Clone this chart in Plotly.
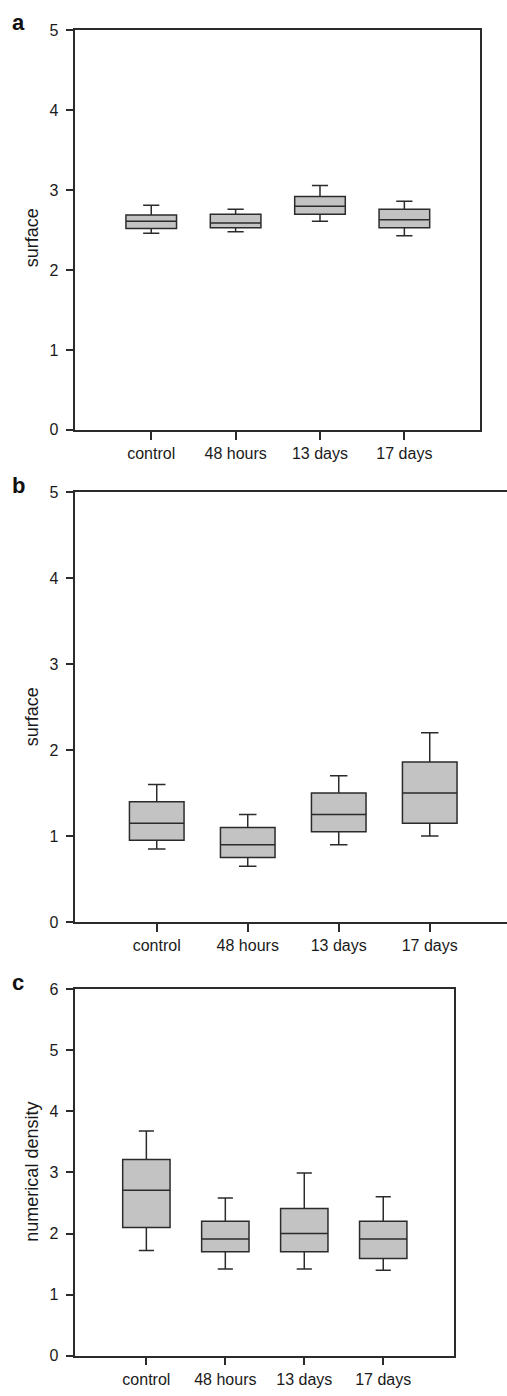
import plotly.graph_objects as go

categories = ["control", "48 hours", "13 days", "17 days"]

# panel a: surface
a_lower = [2.46, 2.48, 2.61, 2.43]
a_q1 = [2.52, 2.53, 2.70, 2.53]
a_median = [2.61, 2.59, 2.80, 2.63]
a_q3 = [2.69, 2.70, 2.92, 2.76]
a_upper = [2.81, 2.76, 3.06, 2.86]

# panel b: surface
b_lower = [0.85, 0.65, 0.90, 1.00]
b_q1 = [0.95, 0.75, 1.05, 1.15]
b_median = [1.15, 0.90, 1.25, 1.50]
b_q3 = [1.40, 1.10, 1.50, 1.86]
b_upper = [1.60, 1.25, 1.70, 2.20]

# panel c: numerical density
c_lower = [1.72, 1.42, 1.42, 1.40]
c_q1 = [2.10, 1.70, 1.70, 1.59]
c_median = [2.71, 1.91, 2.00, 1.91]
c_q3 = [3.21, 2.20, 2.41, 2.20]
c_upper = [3.68, 2.58, 2.99, 2.60]

a_ticks = [0, 1, 2, 3, 4, 5]
b_ticks = [0, 1, 2, 3, 4, 5]
c_ticks = [0, 1, 2, 3, 4, 5, 6]

W, H = 507, 1396
FONT = "Liberation Sans, Arial, sans-serif"
LINE = "#2b2b2b"
FILL = "#c3c3c3"


def px_x(p):
    return p / W


def px_y(p):
    return 1 - p / H


fig = go.Figure()

panels = [
    ("", a_lower, a_q1, a_median, a_q3, a_upper),
    ("2", b_lower, b_q1, b_median, b_q3, b_upper),
    ("3", c_lower, c_q1, c_median, c_q3, c_upper),
]
for suf, lo, q1, med, q3, up in panels:
    fig.add_trace(go.Box(
        x=categories, q1=q1, median=med, q3=q3,
        lowerfence=lo, upperfence=up,
        xaxis="x" + suf, yaxis="y" + suf,
        width=0.6, whiskerwidth=0.32,
        fillcolor=FILL, line=dict(color=LINE, width=1.5),
        boxpoints=False, showlegend=False, hoverinfo="skip",
    ))

common_x = dict(
    type="category", categoryorder="array", categoryarray=categories,
    showline=True, linecolor=LINE, linewidth=1.5,
    ticks="outside", ticklen=8, tickwidth=1.5, tickcolor=LINE,
    showgrid=False, zeroline=False,
    tickfont=dict(family=FONT, size=16, color="#1a1a1a"),
    range=[-0.9, 3.9], fixedrange=True,
)
common_y = dict(
    showline=True, linecolor=LINE, linewidth=1.5,
    ticks="outside", ticklen=8, tickwidth=1.5, tickcolor=LINE,
    showgrid=False, zeroline=False, ticklabelstandoff=4,
    tickfont=dict(family=FONT, size=16, color="#1a1a1a"),
    fixedrange=True,
)

layout = dict(
    width=W, height=H,
    margin=dict(l=0, r=0, t=0, b=0),
    paper_bgcolor="white", plot_bgcolor="white",
    font=dict(family=FONT, color="#1a1a1a"),
)

# panel a
layout["xaxis"] = dict(common_x, domain=[px_x(75.3), px_x(480.3)], anchor="y", mirror=True)
layout["yaxis"] = dict(common_y, domain=[px_y(427), px_y(22.7)], anchor="x", mirror=True,
                       range=[0, 5], tickvals=a_ticks)
# panel b (right side cropped)
layout["xaxis2"] = dict(common_x, domain=[px_x(75.3), 1.0], anchor="y2", mirror=True,
                        range=[-0.895, 3.849])
layout["yaxis2"] = dict(common_y, domain=[px_y(925.3), px_y(490)], anchor="x2", mirror=False,
                        range=[0, 5], tickvals=b_ticks)
# panel c
layout["xaxis3"] = dict(common_x, domain=[px_x(75.3), px_x(454.3)], anchor="y3", mirror=True)
layout["yaxis3"] = dict(common_y, domain=[px_y(1364.3), px_y(993.3)], anchor="x3", mirror=True,
                        range=[0, 6], tickvals=c_ticks)

fig.update_layout(**layout)

# y-axis titles and panel letters
titles = [("surface", 233), ("surface", 718), ("numerical density", 1178)]
for text, yc in titles:
    fig.add_annotation(
        text=text, xref="paper", yref="paper", x=px_x(32), y=px_y(yc),
        textangle=-90, showarrow=False, xanchor="center", yanchor="middle",
        font=dict(family=FONT, size=18, color="#1a1a1a"),
    )

letters = [("a", 15), ("b", 483), ("c", 987)]
for text, yc in letters:
    fig.add_annotation(
        text="<b>" + text + "</b>", xref="paper", yref="paper", x=px_x(18), y=px_y(yc),
        showarrow=False, xanchor="center", yanchor="middle",
        font=dict(family=FONT, size=22, color="#111111"),
    )

fig.write_html(
    "out.html",
    config={"displayModeBar": False},
    post_script="document.body.style.margin='0';document.body.style.overflow='hidden';",
)
